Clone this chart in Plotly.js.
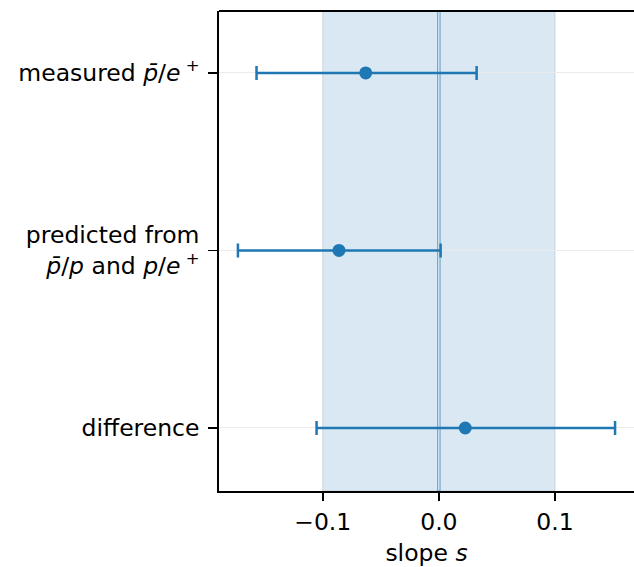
<!DOCTYPE html>
<html>
<head>
<meta charset="utf-8">
<script src="https://cdn.plot.ly/plotly-3.0.1.min.js"></script>
<style>html,body{margin:0;padding:0;background:#fff;}</style>
</head>
<body>
<div id="chart" style="width:634px;height:567px;"></div>
<script>
const categories = [
  "measured <i>p̄</i>/<i>e</i><sup> +</sup>",
  "predicted from<br><i>p̄</i>/<i>p</i> and <i>p</i>/<i>e</i><sup> +</sup>",
  "difference"
];
const slopes = [-0.063, -0.086, 0.0227];
const errLow = [0.094, 0.087, 0.128];
const errHigh = [0.0955, 0.0875, 0.129];
const bandRange = [-0.1, 0.1];
const xTicks = [-0.1, 0.0, 0.1];
const xTickText = ["\u22120.1", "0.0", "0.1"];

const ypos = categories.map((c, i) => i);
const blue = "#1f77b4";

const trace = {
  type: "scatter",
  mode: "markers",
  x: slopes,
  y: ypos,
  marker: {color: blue, size: 13},
  error_x: {
    type: "data",
    symmetric: false,
    array: errHigh,
    arrayminus: errLow,
    color: blue,
    thickness: 2.5,
    width: 7
  },
  hoverinfo: "skip",
  showlegend: false
};

const layout = {
  width: 634,
  height: 567,
  margin: {l: 219, r: 0, t: 11, b: 76},
  paper_bgcolor: "#fff",
  plot_bgcolor: "#fff",
  font: {family: "DejaVu Sans", size: 23.5, color: "#000"},
  xaxis: {
    range: [-0.1893, 0.168],
    tickvals: xTicks,
    ticktext: xTickText,
    ticks: "outside",
    ticklen: 8,
    tickwidth: 1.8,
    tickcolor: "#000",
    ticklabelstandoff: 1,
    showgrid: false,
    zeroline: false,
    showline: true,
    linecolor: "#000",
    linewidth: 1.8,
    title: {text: "slope <i>s</i>", font: {size: 23.5}, standoff: 9},
    tickfont: {size: 23.5}
  },
  yaxis: {
    range: [2.355, -0.349],
    tickvals: ypos,
    ticktext: categories,
    ticks: "outside",
    ticklen: 9,
    tickwidth: 1.8,
    tickcolor: "#000",
    ticklabelstandoff: 4,
    showgrid: true,
    gridcolor: "#ebebeb",
    gridwidth: 1,
    zeroline: false,
    showline: true,
    linecolor: "#000",
    linewidth: 1.8,
    tickfont: {size: 23.5}
  },
  shapes: [
    {type: "rect", xref: "x", yref: "paper", x0: bandRange[0], x1: bandRange[1], y0: 0, y1: 1,
     fillcolor: "rgba(31,119,180,0.17)", line: {color: "rgba(120,140,160,0.25)", width: 1}, layer: "below"},
    {type: "rect", xref: "x", yref: "paper", x0: -0.001, x1: 0.001, y0: 0, y1: 1,
     fillcolor: "rgba(255,255,255,0.35)", line: {color: "rgba(31,119,180,0.7)", width: 1}, layer: "below"},
    {type: "line", xref: "paper", yref: "paper", x0: 0, x1: 1, y0: 1, y1: 1,
     line: {color: "#000", width: 1.8}}
  ]
};

Plotly.newPlot("chart", [trace], layout, {staticPlot: true, displayModeBar: false});
</script>
</body>
</html>
